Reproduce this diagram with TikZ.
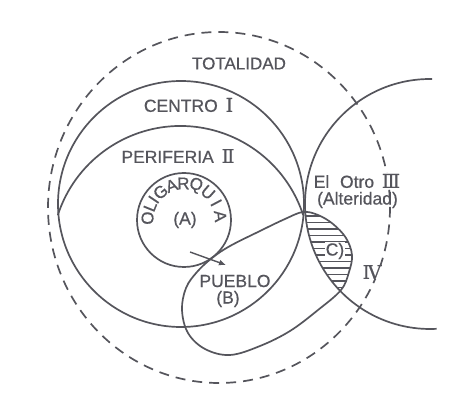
\documentclass[tikz,border=0pt]{standalone}
\usepackage{fontspec}
\setmainfont[FakeBold=0.6]{Liberation Sans}
\newfontfamily\romfont[FakeBold=0.4]{DejaVu Serif}
\usetikzlibrary{arrows.meta,calc}
\definecolor{ink}{RGB}{85,85,92}
\begin{document}
\begin{tikzpicture}[x=1pt,y=-1pt,line width=1.7pt,draw=ink,text=ink,
  lbl/.style={font=\fontsize{17.5}{19}\selectfont,inner sep=0pt},
  olet/.style={font=\fontsize{17}{18}\selectfont,inner sep=0pt},
  hatch/.style={line width=1.3pt}]
\useasboundingbox[fill=white] (0,0) rectangle (451,404);
\coordinate (totc) at (219,207.5);
\coordinate (cenc) at (181,204);
\coordinate (perc) at (180.5,255);
\coordinate (oligc) at (184,220);
\coordinate (otroc) at (430,204);
\def\pueblo{plot[smooth cycle,tension=0.6] coordinates {(303,212) (318,215) (333,224) (346,238) (352,255) (349,272) (341,290) (318,310) (290,331) (260,346) (230,355) (205,349) (188,333) (182,310) (186,288) (197,272) (212,258) (230,246) (260,231) (285,219)}}
% Totalidad
\draw[dash pattern=on 10pt off 7pt] (totc) ellipse [x radius=171, y radius=175.5];
% Centro
\draw (cenc) circle [radius=123];
% Periferia
\draw ($(perc)+(-162:129)$) arc [start angle=-162, end angle=-18, radius=129];
% Oligarquia
\draw (oligc) circle [radius=47];
% El Otro
\draw ($(otroc)+(-89:125)$) arc [start angle=-89, end angle=-273, radius=125];
% hatching C
\begin{scope}
\clip \pueblo;
\clip (otroc) circle [radius=125];
\foreach \yy in {216,222.5,...,294} \draw[hatch] (295,\yy) -- (360,\yy);
\end{scope}
% Pueblo
\draw \pueblo;
% arrow
\coordinate (arA) at (190,252);
\coordinate (arB) at (226,265);
\draw[-{Latex[length=7pt,width=6pt]},line width=1.4pt] (arA) -- (arB);
% labels
\node[lbl,font=\fontsize{17}{19}\selectfont] (tot) at (239,63.5) {TOTALIDAD};
\node[lbl] (cen) at (188.5,105) {CENTRO\, {\romfont\fontsize{19}{20}\selectfont Ⅰ}};
\node[lbl] (per) at (178,156) {PERIFERIA\, {\romfont\fontsize{19}{20}\selectfont Ⅱ}};
\node[lbl,fill=white,inner sep=0.5pt] (otro) at (357,181) {El\,\, Otro\, {\romfont\fontsize{19}{20}\selectfont Ⅲ}};
\node[lbl] (alt) at (357.5,200) {(Alteridad)};
\node[lbl] (a) at (185,220) {(A)};
\node[lbl] (pue) at (235,281) {PUEBLO};
\node[lbl] (b) at (228,299) {(B)};
\node[lbl,fill=white,inner sep=1pt] (c) at (335,251) {C)};
\node[lbl,fill=white,inner sep=0.5pt] (iv) at (372,272) {\romfont\fontsize{19}{20}\selectfont Ⅳ};
\foreach \ch/\v [count=\i] in {O/177,L/158,I/146,G/130,A/110,R/91,Q/71,U/49,I/28,A/6}
  \node[olet,rotate=\v-90] (ol\i) at ($(oligc)+(-\v:36.5)$) {\ch};
\end{tikzpicture}
\end{document}
